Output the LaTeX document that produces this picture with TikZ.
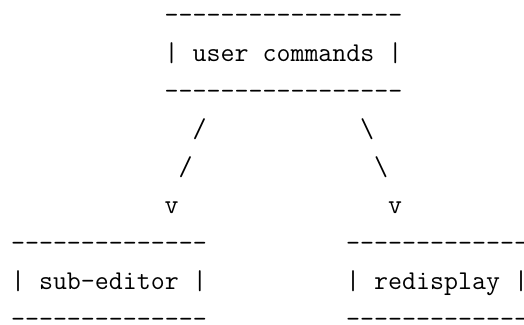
\documentclass[tikz,border=0pt]{standalone}
\newcount\dashcnt
\newcommand\dashrow[1]{\dashcnt=0 \loop\hbox{-}\advance\dashcnt by 1 \ifnum\dashcnt<#1\repeat}
\tikzset{
  ascii/.style={anchor=base west, inner sep=0pt, outer sep=0pt,
    font=\fontsize{27.15}{38}\selectfont\ttfamily}
}
\begin{document}
\begin{tikzpicture}[x=1pt,y=-1pt]
\useasboundingbox (0,0) rectangle (524,324);
\clip (0,0) rectangle (524,324);
\def\cw{13.965}
\def\xo{-2.9}
% line k baseline: 23 + (k-1)*38
\node[ascii] (ucTop)  at ({\xo+12*\cw},23)  {\dashrow{17}};
\node[ascii] (ucText) at ({\xo+12*\cw},61)  {| user commands |};
\node[ascii] (ucBot)  at ({\xo+12*\cw},99)  {\dashrow{17}};
\node[ascii] (sl1)    at ({\xo+14*\cw},137) {/};
\node[ascii] (bs1)    at ({\xo+26*\cw},137) {\textbackslash};
\node[ascii] (sl2)    at ({\xo+13*\cw},175) {/};
\node[ascii] (bs2)    at ({\xo+27*\cw},175) {\textbackslash};
\node[ascii] (vl)     at ({\xo+12*\cw},213) {v};
\node[ascii] (vr)     at ({\xo+28*\cw},213) {v};
\node[ascii] (seTop)  at ({\xo+1*\cw},251)  {\dashrow{14}};
\node[ascii] (seText) at ({\xo+1*\cw},289)  {| sub-editor |};
\node[ascii] (seBot)  at ({\xo+1*\cw},327)  {\dashrow{14}};
\node[ascii] (rdTop)  at ({\xo+25*\cw},251) {\dashrow{13}};
\node[ascii] (rdText) at ({\xo+25*\cw},289) {| redisplay |};
\node[ascii] (rdBot)  at ({\xo+25*\cw},327) {\dashrow{13}};
\end{tikzpicture}
\end{document}
